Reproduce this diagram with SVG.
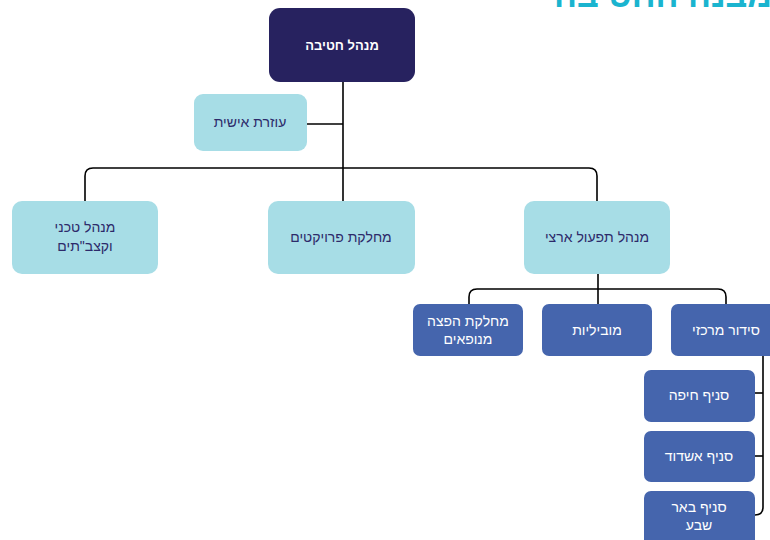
<svg xmlns="http://www.w3.org/2000/svg" width="770" height="540" viewBox="0 0 770 540">
<style>
.t{font-family:"Liberation Sans","DejaVu Sans",sans-serif;text-anchor:middle;dominant-baseline:central}
.lt{fill:#a7dde6}
.bl{fill:#4565ad}
.dk{fill:#27225f}
.tn{fill:#2d2a6a;font-size:14px}
.tw{fill:#ffffff;font-size:14px}
.c{fill:none;stroke:#000;stroke-width:1.6}
</style>
<rect width="770" height="540" fill="#fff"/>
<text x="772" y="7" font-family="Liberation Sans, DejaVu Sans, sans-serif" font-size="34" font-weight="bold" fill="#1ab4cf" text-anchor="end">מבנה החטיבה</text>
<g id="connectors">
<path class="c" d="M343 82 V201"/>
<path class="c" d="M307 124 H343"/>
<path class="c" d="M85 201 V176 Q85 168 93 168 H589 Q597 168 597 176 V201"/>
<path class="c" d="M598 274 V304"/>
<path class="c" d="M469 304 V297 Q469 289 477 289 H718 Q726 289 726 297 V304"/>
<path class="c" d="M763 356 V507 Q763 515 755 515"/>
<path class="c" d="M755 393 H763"/>
<path class="c" d="M755 456 H763"/>
</g>
<g id="n-top"><rect class="dk" x="269" y="8" width="146" height="74" rx="11"/><text class="t" x="342" y="45" fill="#fff" font-size="13" font-weight="bold">מנהל חטיבה</text></g>
<g id="n-assist"><rect class="lt" x="194" y="94" width="113" height="57" rx="9"/><text class="t tn" x="250" y="122">עוזרת אישית</text></g>
<g id="n-tech"><rect class="lt" x="12" y="201" width="146" height="73" rx="10"/><text class="t tn" x="85" y="227">מנהל טכני</text><text class="t tn" x="85" y="246">וקצב"תים</text></g>
<g id="n-proj"><rect class="lt" x="268" y="201" width="147" height="73" rx="10"/><text class="t tn" x="341" y="237">מחלקת פרויקטים</text></g>
<g id="n-ops"><rect class="lt" x="524" y="201" width="146" height="73" rx="10"/><text class="t tn" x="597" y="237">מנהל תפעול ארצי</text></g>
<g id="n-dist"><rect class="bl" x="413" y="304" width="110" height="52" rx="7"/><text class="t tw" x="468" y="321" font-size="12">מחלקת הפצה</text><text class="t tw" x="468" y="339" font-size="12">מנופאים</text></g>
<g id="n-mob"><rect class="bl" x="542" y="304" width="110" height="52" rx="7"/><text class="t tw" x="597" y="330">מוביליות</text></g>
<g id="n-central"><rect class="bl" x="671" y="304" width="110" height="52" rx="7"/><text class="t tw" x="726" y="330">סידור מרכזי</text></g>
<g id="n-haifa"><rect class="bl" x="644" y="370" width="111" height="52" rx="7"/><text class="t tw" x="699" y="395">סניף חיפה</text></g>
<g id="n-ashdod"><rect class="bl" x="644" y="431" width="111" height="51" rx="7"/><text class="t tw" x="699" y="456">סניף אשדוד</text></g>
<g id="n-beersheva"><rect class="bl" x="644" y="491" width="111" height="60" rx="7"/><text class="t tw" x="699" y="507">סניף באר</text><text class="t tw" x="699" y="525">שבע</text></g>
</svg>
